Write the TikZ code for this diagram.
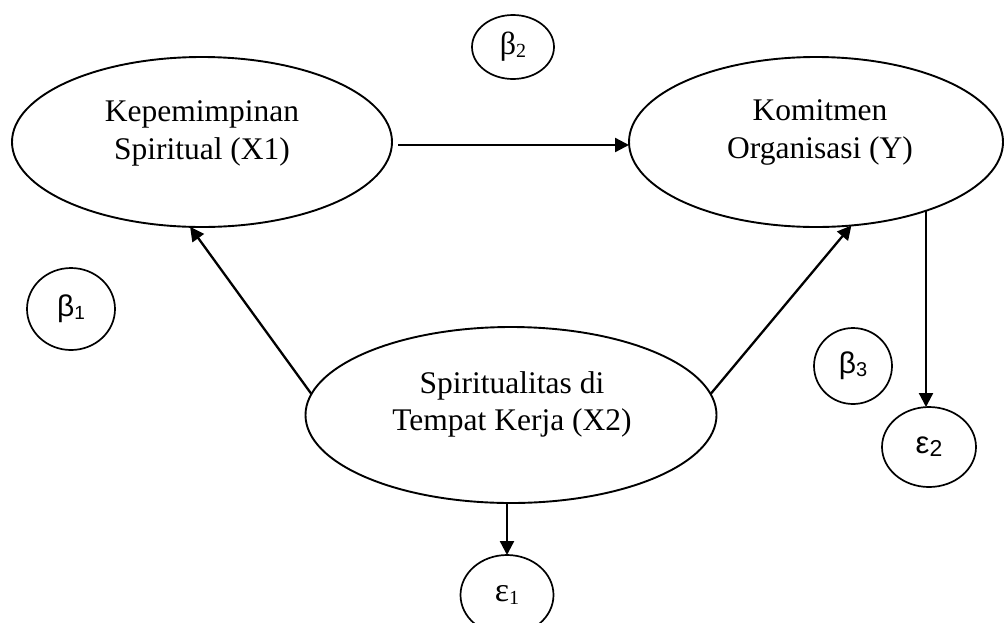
\documentclass[tikz,border=0pt]{standalone}
\usepackage{fontspec}
\setmainfont{Liberation Serif}
\newfontfamily\arialfont{Liberation Sans}
\usetikzlibrary{shapes.geometric,arrows.meta}

\begin{document}
\begin{tikzpicture}[x=1pt,y=-1pt,
  construct/.style={ellipse,draw,line width=1.9pt,inner sep=0pt,outer sep=0pt},
  param/.style={ellipse,draw,line width=1.7pt,inner sep=0pt,outer sep=0pt},
  caption/.style={anchor=base,inner sep=0pt,font=\fontsize{31.5}{38}\selectfont},
  link/.style={line width=2.3pt,-{Triangle[length=14pt,width=14pt]}}
]
\useasboundingbox (0,0) rectangle (1006,622);

% latent constructs
\node[construct,minimum width=380pt,minimum height=170pt] (x1) at (202,142) {};
\node[construct,minimum width=374pt,minimum height=170pt] (y) at (816,142) {};
\node[construct,minimum width=411pt,minimum height=176pt] (x2) at (511,415) {};

\node[caption] (x1a) at (202,121) {Kepemimpinan};
\node[caption] (x1b) at (202,159) {Spiritual (X1)};
\node[caption] (ya) at (820,120) {Komitmen};
\node[caption] (yb) at (820,158) {Organisasi (Y)};
\node[caption] (x2a) at (512,393) {Spiritualitas di};
\node[caption] (x2b) at (512,430) {Tempat Kerja (X2)};

% path coefficients and error terms
\node[param,minimum width=82pt,minimum height=64pt] (b2) at (513,47)
  {\fontsize{32}{32}\selectfont β\raisebox{-3pt}{\fontsize{20}{20}\selectfont 2}};
\node[param,minimum width=88pt,minimum height=82pt] (b1) at (71,309)
  {\arialfont\fontsize{30}{30}\selectfont β\raisebox{-3pt}{\fontsize{19}{19}\selectfont 1}};
\node[param,minimum width=78pt,minimum height=76pt] (b3) at (853,366)
  {\arialfont\fontsize{30}{30}\selectfont β\raisebox{-3pt}{\fontsize{20}{20}\selectfont 3}};
\node[param,minimum width=94pt,minimum height=80pt] (e2) at (929,447)
  {\arialfont\fontsize{31}{31}\selectfont ε\raisebox{-3pt}{\fontsize{23}{23}\selectfont 2}};
\node[param,minimum width=93pt,minimum height=80pt] (e1) at (507,595)
  {\fontsize{34}{34}\selectfont ε\raisebox{-3pt}{\fontsize{20}{20}\selectfont 1}};

% structural paths
\draw[link,shorten <=6pt] ([yshift=-3pt]x1.east) -- ([yshift=-3pt]y.west);
\draw[link] (x2.174) -- (x1.262);
\draw[link] (x2.6) -- (y.-67);
\draw[link] (y.-32) -- (y.-32 |- e2.north);
\draw[link] (e1.north |- x2.south) -- (e1.north);
\end{tikzpicture}
\end{document}
